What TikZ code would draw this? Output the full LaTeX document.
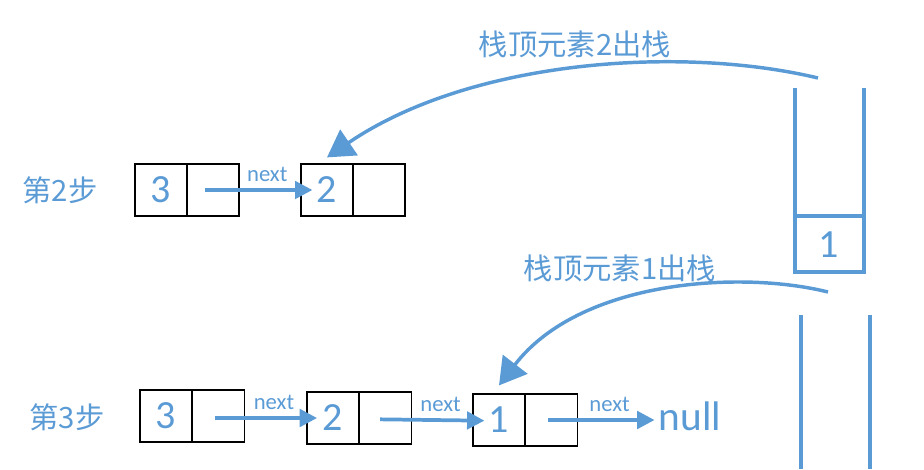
\documentclass[tikz,border=0pt]{standalone}
\usepackage{fontspec}
\setmainfont{Carlito}
\newfontfamily\cjk{Noto Sans CJK SC}
\usepackage{xcolor}
\usetikzlibrary{arrows.meta}
\definecolor{stackblue}{RGB}{91,155,213}

\tikzset{
  cell/.style={draw=black, line width=0.9pt, minimum width=39pt, minimum height=39pt, inner sep=0pt, text=stackblue, font=\fontsize{30}{30}\selectfont},
  nextarrow/.style={stackblue, line width=2.8pt, -{Triangle[length=13pt,width=13pt]}},
  poparrow/.style={stackblue, line width=2.6pt, -{Triangle[length=20pt,width=23pt]}},
  stackline/.style={stackblue, line width=2.6pt},
  steplabel/.style={text=stackblue, font=\cjk\fontsize{22}{22}\selectfont},
  poplabel/.style={text=stackblue, font=\cjk\fontsize{22}{22}\selectfont},
  nextlabel/.style={text=stackblue, font=\fontsize{17}{17}\selectfont, above=5pt, inner sep=0pt, pos=0.58}
}

\begin{document}
\begin{tikzpicture}[x=0.75pt, y=-0.75pt]
    \useasboundingbox (0,0) rectangle (924,469);

    % step 2
    \node[steplabel] (step2) at (60,190) {第2步};
    \node[cell] (d3a) at (161,190) {3};
    \node[cell] (p3a) at (213,190) {};
    \node[cell] (d2a) at (327,190) {2};
    \node[cell] (p2a) at (379,190) {};
    \draw[nextarrow] ([xshift=-6pt]p3a.center) -- ([xshift=9pt]d2a.west) node[nextlabel] {next};

    % stack
    \draw[stackline] (795,88) -- (795,272) -- (864,272) -- (864,88);
    \draw[stackline] (795,216) -- (864,216);
    \node[text=stackblue, font=\fontsize{30}{30}\selectfont] (top1) at (829,245) {1};
    \draw[stackline] (801,315) -- (801,469);
    \draw[stackline] (870,315) -- (870,469);

    \node[poplabel] (pop2) at (575,44) {栈顶元素2出栈};
    \coordinate (from2) at (818,78);
    \draw[poparrow] (from2) .. controls (680,45) and (470,60) .. ([yshift=4.5pt]d2a.north);

    % step 3
    \node[steplabel] (step3) at (67,417) {第3步};
    \node[cell] (d3b) at (166,416) {3};
    \node[cell] (p3b) at (218.5,416) {};
    \node[cell] (d2b) at (333,418) {2};
    \node[cell] (p2b) at (385.5,418) {};
    \node[cell] (d1b) at (499,420) {1};
    \node[cell] (p1b) at (551.5,420) {};
    \node[text=stackblue, font=\fontsize{31}{31}\selectfont, inner sep=0pt] (null) at (690,416) {null};
    \draw[nextarrow] ([xshift=-3pt,yshift=-1.5pt]p3b.center) -- ([xshift=8pt]d2b.west) node[nextlabel] {next};
    \draw[nextarrow] ([xshift=-4pt,yshift=-1pt]p2b.center) -- ([xshift=9pt,yshift=-0.5pt]d1b.west) node[nextlabel] {next};
    \draw[nextarrow] ([xshift=-3pt]p1b.center) -- ([xshift=-3pt]p1b.center -| null.west) node[nextlabel] {next};

    \node[poplabel] (pop1) at (620,268) {栈顶元素1出栈};
    \coordinate (from1) at (828,292);
    \draw[poparrow] (from1) .. controls (740,270) and (580,280) .. ([yshift=6pt]d1b.north);
\end{tikzpicture}
\end{document}
